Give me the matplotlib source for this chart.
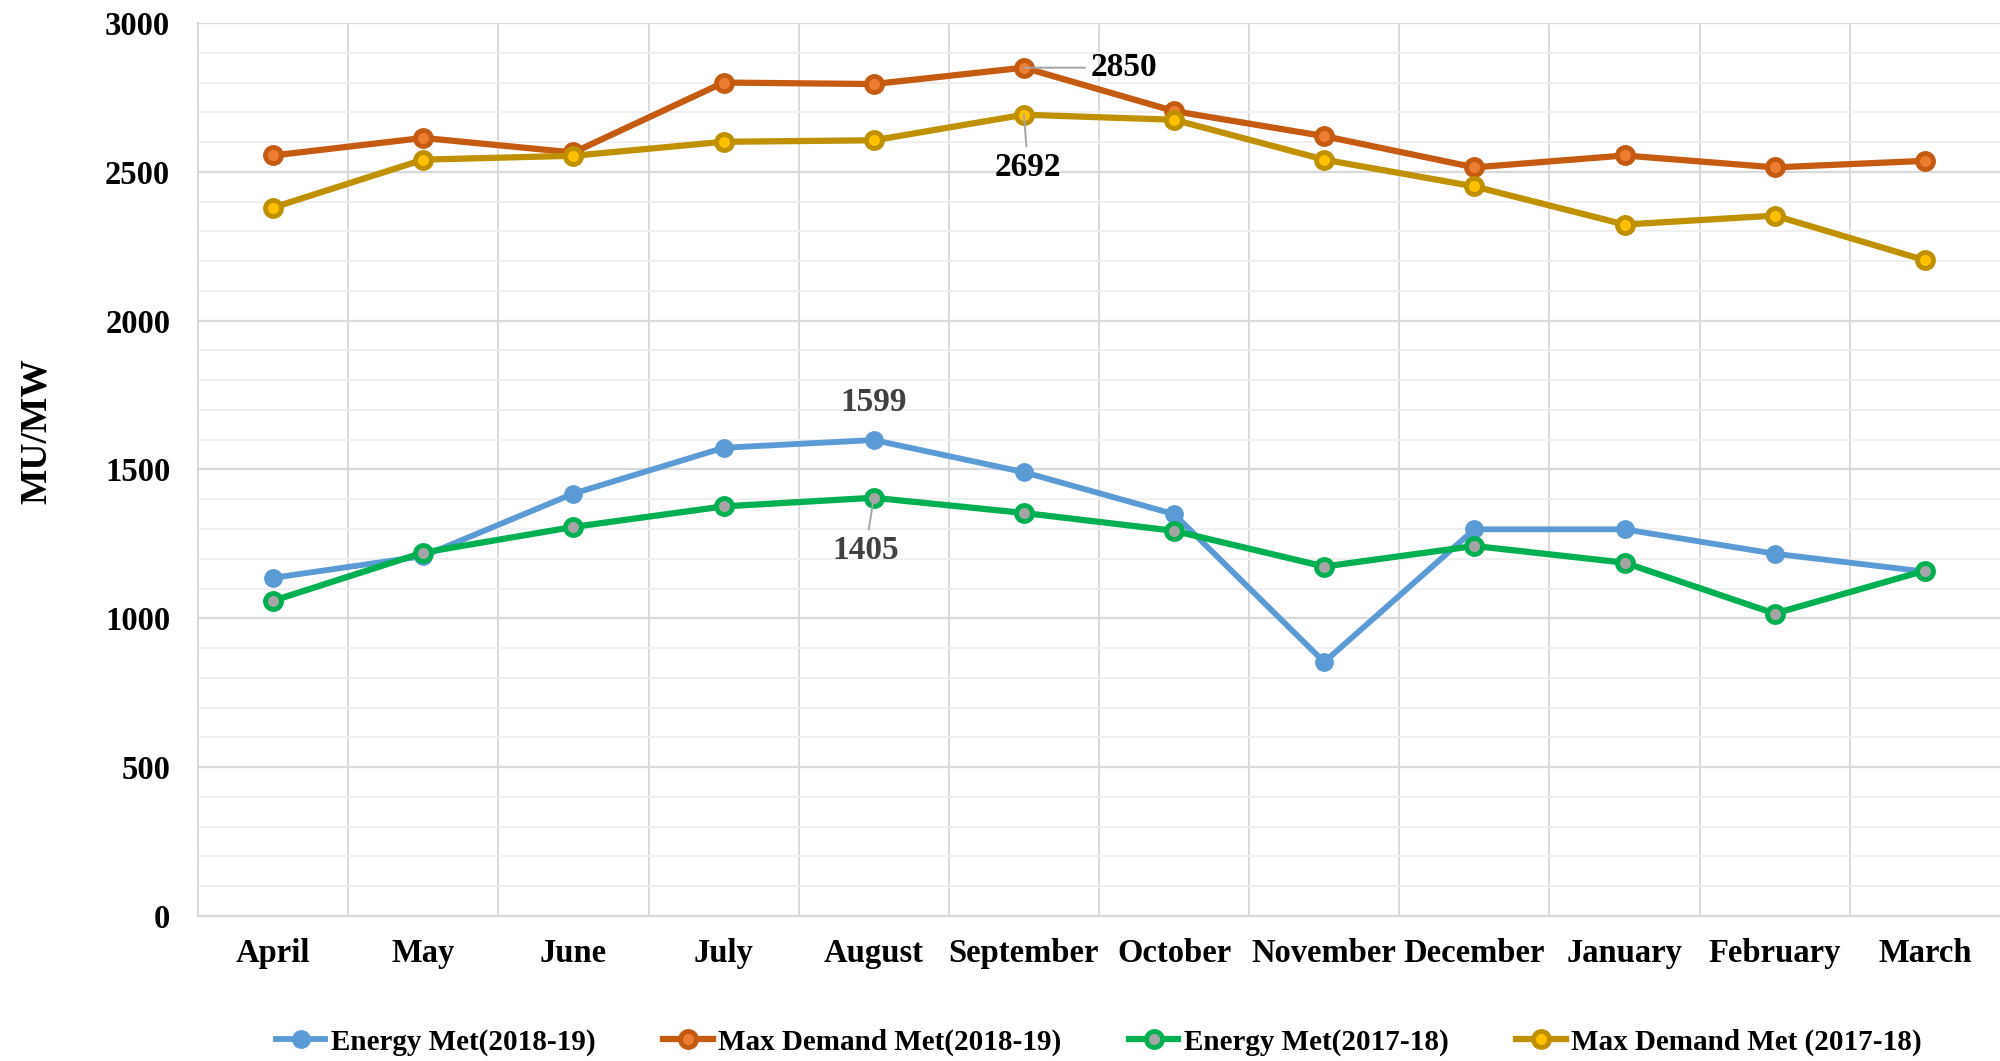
import matplotlib.pyplot as plt
from matplotlib.ticker import MultipleLocator

months = ["April", "May", "June", "July", "August", "September", "October",
          "November", "December", "January", "February", "March"]

energy_1819 = [1136, 1209, 1419, 1573, 1599, 1491, 1350, 853, 1299, 1299, 1217, 1157]
maxdem_1819 = [2555, 2614, 2565, 2800, 2795, 2850, 2704, 2620, 2515, 2555, 2515, 2537]
energy_1718 = [1059, 1221, 1307, 1376, 1405, 1354, 1294, 1174, 1243, 1187, 1016, 1160]
maxdem_1718 = [2380, 2541, 2554, 2601, 2606, 2692, 2675, 2541, 2451, 2323, 2353, 2203]

plt.rcParams["font.family"] = ["Liberation Serif", "DejaVu Serif"]
plt.rcParams["font.weight"] = "bold"

fig = plt.figure(figsize=(20, 10.61), dpi=100)
ax = fig.add_axes([0.099, 0.1367, 0.901, 0.8416])

x = list(range(len(months)))

ax.plot(x, energy_1819, color="#5B9BD5", lw=4.2, marker="o", ms=12.5,
        mfc="#5B9BD5", mec="#5B9BD5", label="Energy Met(2018-19)", zorder=3)
ax.plot(x, maxdem_1819, color="#C55A11", lw=4.5, marker="o", ms=11.5, mew=3.5,
        mfc="#ED7D31", mec="#C55A11", label="Max Demand Met(2018-19)", zorder=3)
ax.plot(x, energy_1718, color="#00B050", lw=4.5, marker="o", ms=11.5, mew=3.5,
        mfc="#A5A5A5", mec="#00B050", label="Energy Met(2017-18)", zorder=3)
ax.plot(x, maxdem_1718, color="#BF9000", lw=4.5, marker="o", ms=11.5, mew=3.5,
        mfc="#FFC000", mec="#BF9000", label="Max Demand Met (2017-18)", zorder=3)

ax.set_xlim(-0.5, len(months) - 0.5)
ax.set_ylim(0, 3000)
ax.set_xticks(x)
ax.set_xticklabels(months)
ax.yaxis.set_major_locator(MultipleLocator(500))
ax.yaxis.set_minor_locator(MultipleLocator(100))
ax.set_xticks([i + 0.5 for i in range(len(months) - 1)], minor=True)

ax.grid(axis="y", which="major", color="#D9D9D9", lw=1.6, zorder=0)
ax.grid(axis="y", which="minor", color="#F0F0F0", lw=1.4, zorder=0)
ax.grid(axis="x", which="minor", color="#D9D9D9", lw=1.4, zorder=0)
ax.set_axisbelow(True)

for s in ["top", "right"]:
    ax.spines[s].set_visible(False)
ax.spines["bottom"].set_color("#D9D9D9")
ax.spines["bottom"].set_linewidth(1.6)
ax.spines["left"].set_color("#D9D9D9")
ax.spines["left"].set_linewidth(1.4)

ax.tick_params(axis="both", which="both", length=0)
ax.tick_params(axis="x", labelsize=23.5, pad=16)
ax.tick_params(axis="y", labelsize=23.5, pad=20)
ax.set_ylabel("MU/MW", fontsize=27, fontweight="bold")
ax.yaxis.set_label_coords(-0.080, 0.543)

# data labels
lead = dict(arrowstyle="-", color="#A6A6A6", lw=1.4, shrinkA=2, shrinkB=0)
ax.annotate("2850", (5, 2850), xytext=(48, 0), textcoords="offset points",
            ha="left", va="center", fontsize=24, fontweight="bold",
            arrowprops=lead)
ax.annotate("2692", (5, 2692), xytext=(3, -38), textcoords="offset points",
            ha="center", va="center", fontsize=24, fontweight="bold",
            arrowprops=lead)
ax.annotate("1599", (4, 1599), xytext=(0, 27), textcoords="offset points",
            ha="center", va="center", fontsize=24, fontweight="bold",
            color="#404040")
ax.annotate("1405", (4, 1405), xytext=(-6, -38), textcoords="offset points",
            ha="center", va="center", fontsize=24, fontweight="bold",
            color="#404040", arrowprops=lead)

ax.legend(loc="center", bbox_to_anchor=(0.5, -0.141), ncol=4, frameon=False,
          fontsize=21, handlelength=1.7, columnspacing=2.3, handletextpad=0.2)

fig.savefig("out.png", dpi=100)
